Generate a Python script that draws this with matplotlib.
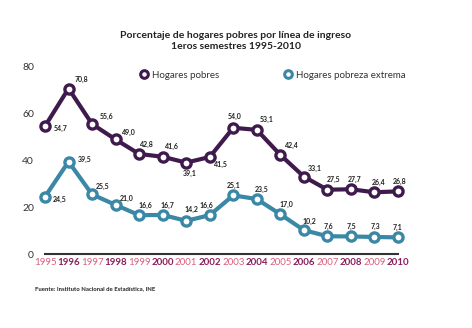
import matplotlib.pyplot as plt
from matplotlib.lines import Line2D

plt.rcParams['font.family'] = ['Lato', 'DejaVu Sans']

years = list(range(1995, 2011))
pobres = [54.7, 70.8, 55.6, 49.0, 42.8, 41.6, 39.1, 41.5, 54.0, 53.1, 42.4, 33.1, 27.5, 27.7, 26.4, 26.8]
extrema = [24.5, 39.5, 25.5, 21.0, 16.6, 16.7, 14.2, 16.6, 25.1, 23.5, 17.0, 10.2, 7.6, 7.5, 7.3, 7.1]

# label offsets in pixels (dx, dy up)
off_pobres = [(16, -2), (13, 9), (14, 8), (13, 7), (8, 10), (9, 10), (4, -11), (11, -7),
              (1, 11), (10, 10), (12, 9), (11, 8), (6, 10), (4, 10), (4, 10), (2, 10)]
off_extrema = [(15, -3), (16, 2), (11, 8), (11, 6), (6, 10), (5, 10), (5, 11), (-3, 10),
               (0, 10), (5, 10), (6, 10), (6, 9), (1, 10), (1, 10), (1, 10), (0, 10)]

c_pob = '#3f1a4d'
c_ext = '#3a87a6'

fig = plt.figure(figsize=(4.72, 3.28), dpi=100)
ax = fig.add_axes([45 / 472, 1 - 254 / 328, 353 / 472, 187 / 328])

for vals, col, offs in [(pobres, c_pob, off_pobres), (extrema, c_ext, off_extrema)]:
    ax.plot(years, vals, color=col, lw=3, marker='o', ms=6.6, mfc='white',
            mec=col, mew=2.4, clip_on=False, zorder=3)
    for x, v, (dx, dy) in zip(years, vals, offs):
        ax.annotate(f'{v:.1f}'.replace('.', ','), (x, v), xytext=(dx, dy),
                    textcoords='offset pixels', ha='center', va='center',
                    fontsize=5, fontweight='bold', color='#222222')

ax.set_xlim(1995, 2010)
ax.set_ylim(0, 80)
ax.set_yticks([0, 20, 40, 60, 80])
ax.set_xticks(years)
ax.set_xticklabels([str(y) for y in years])
for i, lab in enumerate(ax.get_xticklabels()):
    if i % 2 == 0:
        lab.set_color('#d9607f')
    else:
        lab.set_color('#8a1f5c')
        lab.set_fontweight('bold')
ax.tick_params(axis='x', length=0, pad=3, labelsize=7)
ax.tick_params(axis='y', length=0, pad=8, labelsize=7.5, labelcolor='#333333')
for s in ['top', 'right', 'left']:
    ax.spines[s].set_visible(False)
ax.spines['bottom'].set_color('#333333')
ax.spines['bottom'].set_linewidth(1.5)

handles = [Line2D([], [], ls='none', marker='o', ms=5.5, mfc='white', mec=c_pob, mew=2.2),
           Line2D([], [], ls='none', marker='o', ms=5.5, mfc='white', mec=c_ext, mew=2.2)]
fig.legend(handles, ['Hogares pobres', 'Hogares pobreza extrema'], ncol=2,
           loc='center left', bbox_to_anchor=(134 / 472, 1 - 75 / 328),
           frameon=False, fontsize=7, handlelength=1, handletextpad=0.3,
           columnspacing=6.6, borderpad=0, labelcolor='#333333')

fig.text(0.5, 1 - 41 / 328, 'Porcentaje de hogares pobres por línea de ingreso\n1eros semestres 1995-2010',
         ha='center', va='center', fontsize=7.5, fontweight='bold', color='#222222',
         linespacing=1.3)
fig.text(35 / 472, 1 - 289 / 328, 'Fuente: Instituto Nacional de Estadística, INE',
         ha='left', va='center', fontsize=4.3, fontweight='bold', color='#222222')

fig.savefig('out.png', dpi=100)
